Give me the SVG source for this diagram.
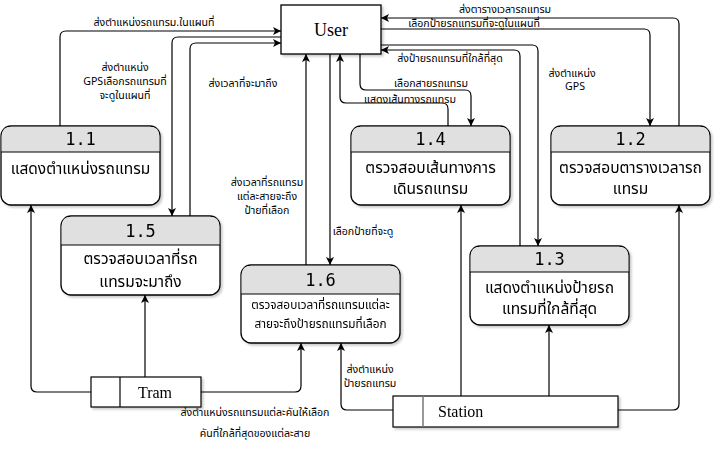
<svg xmlns="http://www.w3.org/2000/svg" width="722" height="458" viewBox="0 0 722 458">
<style>
.node rect.box{fill:#ffffff;stroke:#000;stroke-width:1.3}
.hdr{fill:#e0e0e0}
.num{font-family:"DejaVu Sans Mono","Liberation Mono",monospace;font-size:17px;fill:#000;text-anchor:middle}
.body{font-family:Tahoma,"Noto Sans Thai","Noto Sans","DejaVu Sans",sans-serif;font-size:15.5px;fill:#000;text-anchor:middle}
.body2{font-family:Tahoma,"Noto Sans Thai","Noto Sans","DejaVu Sans",sans-serif;font-size:11.8px;fill:#000;text-anchor:middle}
.ent{font-family:"Liberation Serif","Times New Roman",serif;fill:#000}
.lbl{font-family:Tahoma,"Noto Sans Thai","Noto Sans","DejaVu Sans",sans-serif;font-size:10.6px;fill:#000;text-anchor:middle}
.conn path{fill:none;stroke:#000;stroke-width:1.2;marker-end:url(#arr)}
</style>
<defs>
<marker id="arr" markerWidth="10" markerHeight="10" refX="8" refY="4" orient="auto" markerUnits="userSpaceOnUse">
<path d="M0,0 L8,4 L0,8 L2,4 Z" fill="#000"/>
</marker>
<filter id="sh" x="-10%" y="-10%" width="130%" height="130%">
<feDropShadow dx="2" dy="2" stdDeviation="1.2" flood-color="#000" flood-opacity="0.2"/>
</filter>
</defs>
<rect width="722" height="458" fill="#ffffff"/>

<g id="connectors" class="conn">
<path d="M60,126 V37 Q60,31 66,31 H281"/>
<path d="M281,37 H178 Q172,37 172,43 V216"/>
<path d="M190,216 V49 Q190,43 196,43 H281"/>
<path d="M306,265 V54"/>
<path d="M330,54 V265"/>
<path d="M448,126 V109 Q448,103 442,103 H346 Q340,103 340,97 V54"/>
<path d="M360,54 V84 Q360,90 366,90 H465 Q471,90 471,96 V126"/>
<path d="M520,246 V56 Q520,50 514,50 H381"/>
<path d="M381,45 H532 Q538,45 538,51 V246"/>
<path d="M381,29 H644 Q650,29 650,35 V126"/>
<path d="M679,126 V24 Q679,18 673,18 H381"/>
<path d="M618,410 H673 Q679,410 679,404 V205"/>
<path d="M549,396 V325"/>
<path d="M461,396 V205"/>
<path d="M393,410 H347 Q341,410 341,404 V343"/>
<path d="M201,392 H295 Q301,392 301,386 V343"/>
<path d="M91,392 H37 Q31,392 31,386 V205"/>
<path d="M145,377 V295"/>
</g>

<g id="labels">
<text class="lbl" x="154" y="26">ส่งตำแหน่งรถแทรม.ในแผนที่</text>
<text class="lbl" x="125" y="71">ส่งตำแหน่ง</text>
<text class="lbl" x="125" y="85">GPSเลือกรถแทรมที่</text>
<text class="lbl" x="125" y="99">จะดูในแผนที่</text>
<text class="lbl" x="243" y="87">ส่งเวลาที่จะมาถึง</text>
<text class="lbl" x="267" y="186">ส่งเวลาที่รถแทรม</text>
<text class="lbl" x="267" y="200">แต่ละสายจะถึง</text>
<text class="lbl" x="267" y="214">ป้ายที่เลือก</text>
<text class="lbl" x="363" y="235">เลือกป้ายที่จะดู</text>
<text class="lbl" x="431" y="87">เลือกสายรถแทรม</text>
<text class="lbl" x="410" y="103">แสดงเส้นทางรถแทรม</text>
<text class="lbl" x="450" y="62">ส่งป้ายรถแทรมที่ใกล้ที่สุด</text>
<text class="lbl" x="505" y="13">ส่งตารางเวลารถแทรม</text>
<text class="lbl" x="474" y="27">เลือกป้ายรถแทรมที่จะดูในแผนที่</text>
<text class="lbl" x="572" y="77">ส่งตำแหน่ง</text>
<text class="lbl" x="575" y="90">GPS</text>
<text class="lbl" x="370" y="373">ส่งตำแหน่ง</text>
<text class="lbl" x="370" y="387">ป้ายรถแทรม</text>
<text class="lbl" x="255" y="416">ส่งตำแหน่งรถแทรมแต่ละคันให้เลือก</text>
<text class="lbl" x="255" y="437">คันที่ใกล้ที่สุดของแต่ละสาย</text>
</g>

<g id="user">
<rect x="281" y="5" width="100" height="49" fill="#fff" stroke="#000" stroke-width="1.3" filter="url(#sh)"/>
<text class="ent" x="331" y="36" font-size="18" text-anchor="middle">User</text>
</g>

<g id="n1_1" class="node" filter="url(#sh)">
<rect class="box" x="1" y="126" width="159" height="79" rx="10"/>
<path class="hdr" d="M11,126.7 H150 Q159.3,126.7 159.3,136 V152 H1.7 V136 Q1.7,126.7 11,126.7 Z"/>
<line x1="1" y1="152" x2="160" y2="152" stroke="#000" stroke-width="1.2"/>
<text class="num" x="80.5" y="145">1.1</text>
<text class="body" x="80.5" y="174">แสดงตำแหน่งรถแทรม</text>
</g>

<g id="n1_5" class="node" filter="url(#sh)">
<rect class="box" x="61" y="216" width="159" height="79" rx="10"/>
<path class="hdr" d="M71,216.7 H210 Q219.3,216.7 219.3,226 V245 H61.7 V226 Q61.7,216.7 71,216.7 Z"/>
<line x1="61" y1="245" x2="220" y2="245" stroke="#000" stroke-width="1.2"/>
<text class="num" x="140.5" y="237">1.5</text>
<text class="body" x="140.5" y="264">ตรวจสอบเวลาที่รถ</text>
<text class="body" x="140.5" y="287">แทรมจะมาถึง</text>
</g>

<g id="n1_6" class="node" filter="url(#sh)">
<rect class="box" x="241" y="265" width="159" height="78" rx="10"/>
<path class="hdr" d="M251,265.7 H390 Q399.3,265.7 399.3,275 V294 H241.7 V275 Q241.7,265.7 251,265.7 Z"/>
<line x1="241" y1="294" x2="400" y2="294" stroke="#000" stroke-width="1.2"/>
<text class="num" x="320.5" y="286">1.6</text>
<text class="body2" x="320.5" y="309">ตรวจสอบเวลาที่รถแทรมแต่ละ</text>
<text class="body2" x="320.5" y="328">สายจะถึงป้ายรถแทรมที่เลือก</text>
</g>

<g id="n1_4" class="node" filter="url(#sh)">
<rect class="box" x="351" y="126" width="159" height="79" rx="10"/>
<path class="hdr" d="M361,126.7 H500 Q509.3,126.7 509.3,136 V152 H351.7 V136 Q351.7,126.7 361,126.7 Z"/>
<line x1="351" y1="152" x2="510" y2="152" stroke="#000" stroke-width="1.2"/>
<text class="num" x="430.5" y="145">1.4</text>
<text class="body" x="430.5" y="173">ตรวจสอบเส้นทางการ</text>
<text class="body" x="430.5" y="194">เดินรถแทรม</text>
</g>

<g id="n1_2" class="node" filter="url(#sh)">
<rect class="box" x="551" y="126" width="159" height="79" rx="10"/>
<path class="hdr" d="M561,126.7 H700 Q709.3,126.7 709.3,136 V152 H551.7 V136 Q551.7,126.7 561,126.7 Z"/>
<line x1="551" y1="152" x2="710" y2="152" stroke="#000" stroke-width="1.2"/>
<text class="num" x="630.5" y="145">1.2</text>
<text class="body" x="630.5" y="173">ตรวจสอบตารางเวลารถ</text>
<text class="body" x="630.5" y="194">แทรม</text>
</g>

<g id="n1_3" class="node" filter="url(#sh)">
<rect class="box" x="470" y="246" width="159" height="79" rx="10"/>
<path class="hdr" d="M480,246.7 H619 Q628.3,246.7 628.3,256 V272 H470.7 V256 Q470.7,246.7 480,246.7 Z"/>
<line x1="470" y1="272" x2="629" y2="272" stroke="#000" stroke-width="1.2"/>
<text class="num" x="549.5" y="265">1.3</text>
<text class="body" x="549.5" y="293">แสดงตำแหน่งป้ายรถ</text>
<text class="body" x="549.5" y="314">แทรมที่ใกล้ที่สุด</text>
</g>

<g id="tram" filter="url(#sh)">
<rect x="91" y="377" width="110" height="30" fill="#fff" stroke="#000" stroke-width="1.2"/>
<line x1="120" y1="377" x2="120" y2="407" stroke="#000" stroke-width="1.2"/>
<text class="ent" x="155" y="398" font-size="16" text-anchor="middle">Tram</text>
</g>

<g id="station" filter="url(#sh)">
<rect x="393" y="396" width="225" height="31" fill="#fff" stroke="#000" stroke-width="1.2"/>
<line x1="423" y1="396" x2="423" y2="427" stroke="#777" stroke-width="1.5"/>
<text class="ent" x="438" y="417" font-size="16">Station</text>
</g>
</svg>
